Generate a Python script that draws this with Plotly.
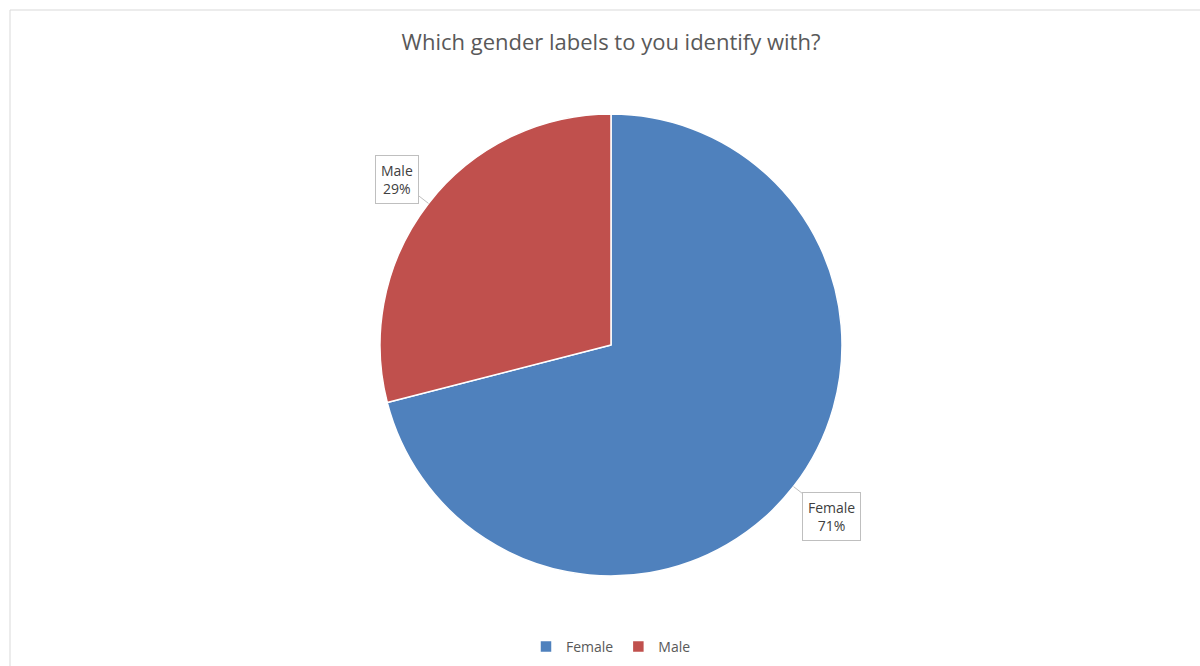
import math
import plotly.graph_objects as go

categories = ["Female", "Male"]
values = [71, 29]
colors = ["#4F81BD", "#C0504D"]
title_text = "Which gender labels to you identify with?"

W, H = 1200, 666
cx, cy, r = 611, 345, 231  # pie center / radius in px

dom_x = [(cx - r) / W, (cx + r) / W]
dom_y = [1 - (cy + r) / H, 1 - (cy - r) / H]

fig = go.Figure(go.Pie(
    labels=categories,
    values=values,
    marker=dict(colors=colors, line=dict(color="white", width=1.5)),
    sort=False,
    direction="clockwise",
    rotation=0,
    textinfo="none",
    hoverinfo="label+percent",
    domain=dict(x=dom_x, y=dom_y),
))

# callout labels placed from data angles
annotations = []
total = sum(values)
start = 0.0
for cat, v in zip(categories, values):
    frac = v / total
    mid = (start + frac / 2) * 2 * math.pi
    start += frac
    dx, dy = math.sin(mid), math.cos(mid)
    ex, ey = cx + r * dx, cy - r * dy
    k = 1.21 if dx > 0 else 1.17
    bx, by = cx + r * k * dx, cy - r * k * dy
    annotations.append(dict(
        x=ex / W, y=1 - ey / H, xref="paper", yref="paper",
        ax=bx - ex, ay=by - ey, axref="pixel", ayref="pixel",
        text=f"{cat}<br>{round(frac * 100)}%",
        showarrow=True, arrowhead=0, arrowwidth=1, arrowcolor="#BFBFBF",
        bordercolor="#BFBFBF", borderwidth=1, borderpad=5, bgcolor="white",
        font=dict(family="Open Sans", size=14, color="#404040"),
        align="center",
    ))

fig.update_layout(
    width=W, height=H,
    margin=dict(l=0, r=0, t=0, b=0),
    paper_bgcolor="white",
    title=dict(text=title_text, x=cx / W, xanchor="center", y=1 - 42 / H, yanchor="middle",
               font=dict(family="Open Sans", size=22, color="#595959")),
    legend=dict(orientation="h", x=cx / W, xanchor="center", y=1 - 647 / H, yanchor="middle",
                font=dict(family="Open Sans", size=14, color="#595959"),
                itemwidth=30, traceorder="normal"),
    annotations=annotations,
    shapes=[dict(type="rect", xref="paper", yref="paper",
                 x0=10 / W, x1=1.02, y0=-0.02, y1=1 - 10 / H,
                 line=dict(color="#D9D9D9", width=1), layer="below")],
)

fig.write_html("out.html", config={"displayModeBar": False},
               post_script="document.body.style.margin='0';")
